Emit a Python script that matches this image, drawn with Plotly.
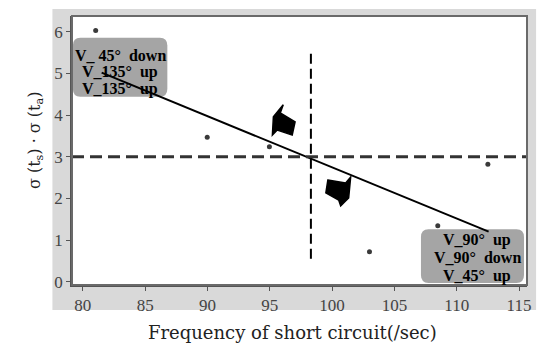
import plotly.graph_objects as go

# ---- data ----
freq = [81.03, 89.98, 94.97, 103.0, 108.48, 112.5]
sigma_prod = [6.03, 3.47, 3.24, 0.72, 1.34, 2.82]

fit_x = [81.51, 112.56]
fit_y = [5.02, 1.20]

mean_x = 98.3
mean_y = 3.0
vline_y = [0.55, 5.5]

x_ticks = [80, 85, 90, 95, 100, 105, 110, 115]
y_ticks = [0, 1, 2, 3, 4, 5, 6]

left_box_lines = ["V_ 45°\u00a0\u00a0down", "V_135°\u00a0\u00a0up", "V_135°\u00a0\u00a0up"]
right_box_lines = ["V_90°\u00a0\u00a0up", "V_90°\u00a0\u00a0down", "V_45°\u00a0\u00a0up"]

# arrow outlines (data coords)
arrow_ul_x = [96.08, 95.84, 97.03, 96.80, 95.60, 95.21, 95.29]
arrow_ul_y = [4.25, 4.05, 3.84, 3.52, 3.64, 3.52, 3.96]
arrow_dr_x = [99.66, 101.09, 101.49, 101.33, 100.69, 100.53, 99.50]
arrow_dr_y = [2.44, 2.37, 2.51, 2.01, 1.82, 1.96, 2.13]

XR = [79.13, 115.64]
YR = [-0.08, 6.38]

SERIF = "Liberation Serif"
WIDE_SERIF = "DejaVu Serif"

fig = go.Figure()

fig.add_trace(go.Scatter(x=fit_x, y=fit_y, mode="lines",
                         line=dict(color="black", width=2), showlegend=False,
                         hoverinfo="skip"))
fig.add_trace(go.Scatter(x=freq, y=sigma_prod, mode="markers",
                         marker=dict(color="#3a3a3a", size=5), showlegend=False))

def poly_path(xs, ys):
    p = "M %f,%f " % (xs[0], ys[0])
    for a, b in zip(xs[1:], ys[1:]):
        p += "L %f,%f " % (a, b)
    return p + "Z"

def rounded(x0, x1, y0, y1, rx, ry):
    return (f"M {x0+rx},{y0} L {x1-rx},{y0} Q {x1},{y0} {x1},{y0+ry} "
            f"L {x1},{y1-ry} Q {x1},{y1} {x1-rx},{y1} L {x0+rx},{y1} "
            f"Q {x0},{y1} {x0},{y1-ry} L {x0},{y0+ry} Q {x0},{y0} {x0+rx},{y0} Z")

shapes = [
    dict(type="rect", xref="paper", yref="paper", x0=-0.043, x1=1.02, y0=-0.093, y1=1.026,
         fillcolor="#d9d9d9", line=dict(width=0), layer="below"),
    dict(type="rect", xref="paper", yref="paper", x0=0, x1=1, y0=0, y1=1,
         fillcolor="white", line=dict(width=0), layer="below"),
    dict(type="path", xref="x", yref="y", path=rounded(79.2, 86.78, 4.44, 5.86, 0.6, 0.19),
         fillcolor="#a5a5a5", line=dict(width=0), layer="below"),
    dict(type="path", xref="x", yref="y", path=rounded(107.13, 115.4, -0.03, 1.26, 0.6, 0.19),
         fillcolor="#a5a5a5", line=dict(width=0), layer="below"),
    dict(type="line", xref="paper", yref="y", x0=0, x1=1, y0=mean_y, y1=mean_y,
         line=dict(color="#333333", width=3, dash="12px,6px")),
    dict(type="line", xref="x", yref="y", x0=mean_x, x1=mean_x, y0=vline_y[0], y1=vline_y[1],
         line=dict(color="black", width=2, dash="10px,5px")),
    dict(type="path", xref="x", yref="y", path=poly_path(arrow_ul_x, arrow_ul_y),
         fillcolor="black", line=dict(color="black", width=1.5)),
    dict(type="path", xref="x", yref="y", path=poly_path(arrow_dr_x, arrow_dr_y),
         fillcolor="black", line=dict(color="black", width=1.5)),
    dict(type="rect", xref="paper", yref="paper", x0=0, x1=1, y0=0, y1=1,
         line=dict(color="#6a6a6a", width=2), fillcolor="rgba(0,0,0,0)"),
]

annotations = []
left_y = [5.44, 5.03, 4.62]
right_y = [0.99, 0.57, 0.14]
for t, yy in zip(left_box_lines, left_y):
    annotations.append(dict(x=82.99, y=yy, xref="x", yref="y", text="<b>%s</b>" % t,
                            showarrow=False, font=dict(family=SERIF, size=16, color="black")))
for t, yy in zip(right_box_lines, right_y):
    annotations.append(dict(x=111.66, y=yy, xref="x", yref="y", text="<b>%s</b>" % t,
                            showarrow=False, font=dict(family=SERIF, size=16, color="black")))

annotations.append(dict(x=0.485, y=-0.175, xref="paper", yref="paper", yanchor="middle",
                        text="Frequency of short circuit(/sec)", showarrow=False,
                        font=dict(family=WIDE_SERIF, size=18, color="#222222")))
annotations.append(dict(x=-0.108, y=0.54, xref="paper", yref="paper", textangle=-90,
                        text="σ (t<sub>s</sub>) · σ (t<sub>a</sub>)", showarrow=False,
                        font=dict(family=WIDE_SERIF, size=16, color="#222222")))

fig.update_layout(
    width=538, height=346,
    margin=dict(l=72, r=7, t=16, b=61),
    paper_bgcolor="white", plot_bgcolor="white",
    shapes=shapes, annotations=annotations, showlegend=False,
    xaxis=dict(range=XR, tickvals=x_ticks, ticks="outside", ticklen=4, tickcolor="#555",
               showgrid=False, zeroline=False, showline=True, linecolor="#555", linewidth=1.5,
               tickfont=dict(family=SERIF, size=17, color="#444")),
    yaxis=dict(range=YR, tickvals=y_ticks, ticks="outside", ticklen=4, tickcolor="#555",
               showgrid=False, zeroline=False, showline=True, linecolor="#555", linewidth=1.5,
               tickfont=dict(family=SERIF, size=17, color="#444")),
)

fig.write_html("out.html", post_script="document.body.style.margin='0';",
               config={"displayModeBar": False})
